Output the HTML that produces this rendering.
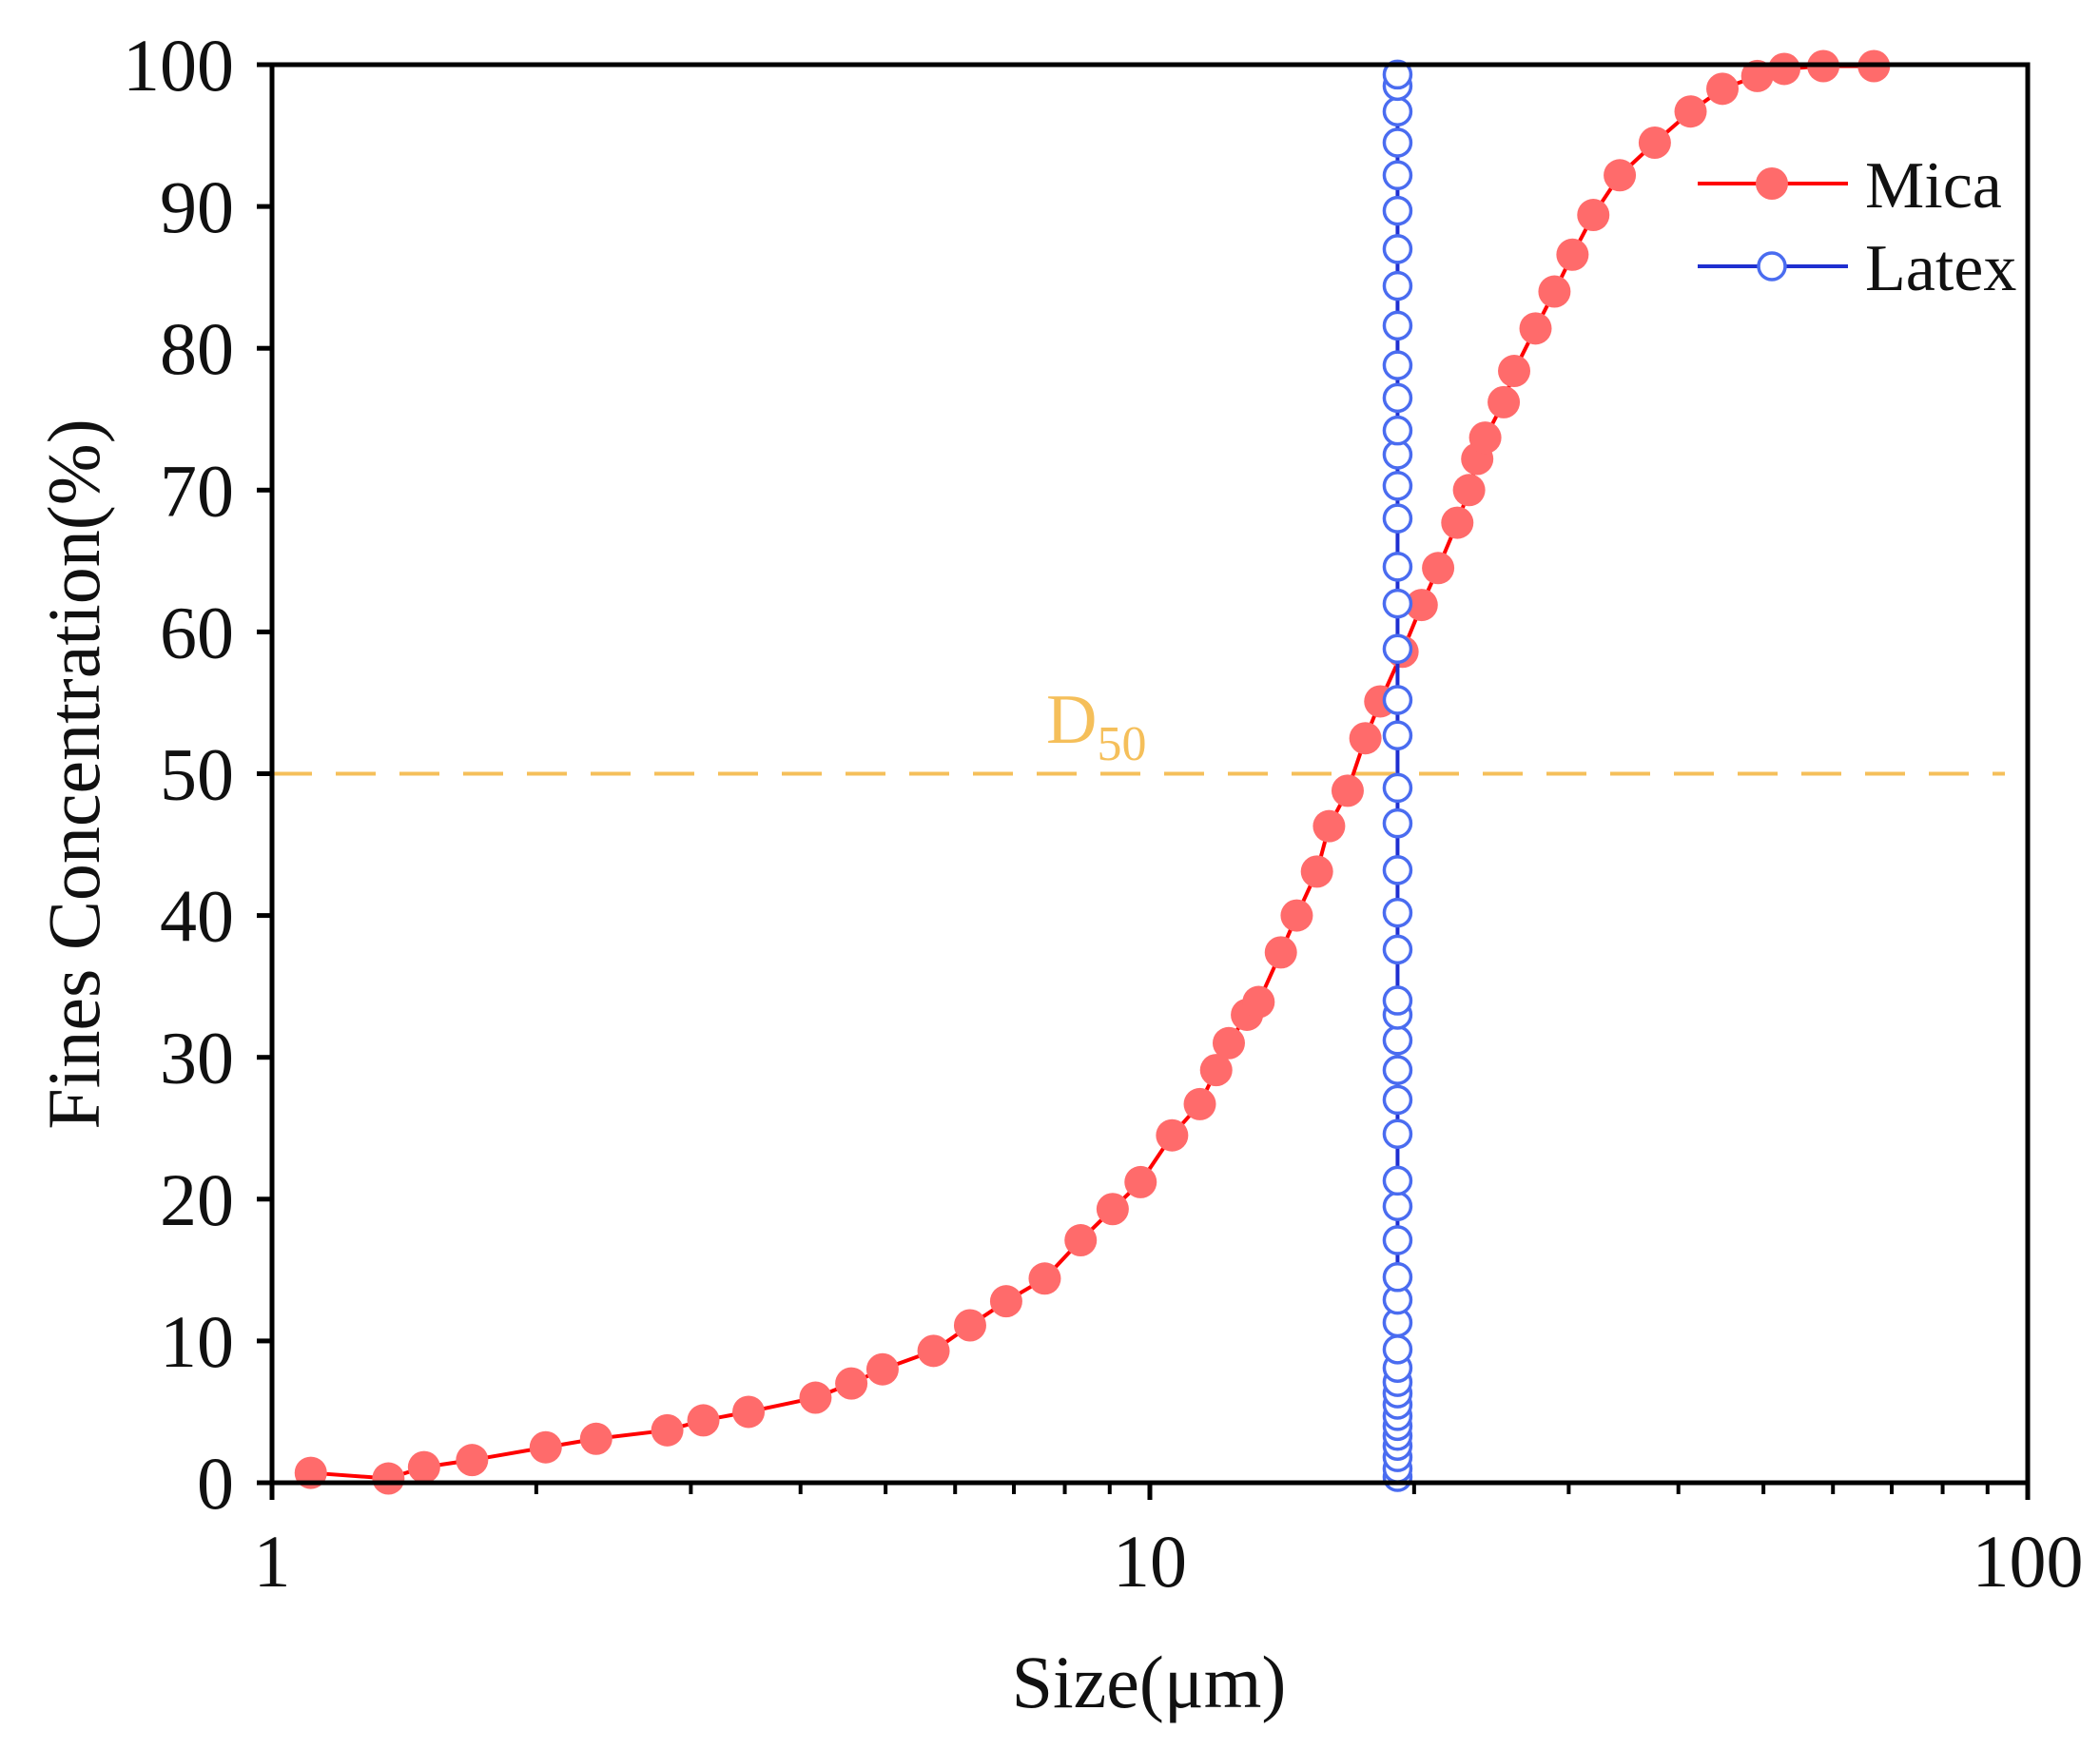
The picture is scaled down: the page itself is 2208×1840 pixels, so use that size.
<!DOCTYPE html>
<html><head><meta charset="utf-8"><style>html,body{margin:0;padding:0;background:#fff}svg{display:block}text{font-family:"Liberation Serif",serif;fill:#111}</style></head>
<body>
<svg id="chart" width="2208" height="1840" viewBox="0 0 2208 1840" xmlns="http://www.w3.org/2000/svg"></svg>
<script>
const micaX=[1.107,1.357,1.49,1.69,2.05,2.34,2.82,3.10,3.49,4.16,4.57,4.96,5.67,6.24,6.86,7.59,8.34,9.07,9.76,10.6,11.4,11.9,12.3,12.9,13.3,14.1,14.7,15.5,16.0,16.8,17.6,18.3,19.4,20.4,21.3,22.4,23.1,23.6,24.1,25.3,26.0,27.5,28.9,30.3,32.0,34.3,37.6,41.3,44.9,49.2,52.8,58.5,66.8];
const micaY=[0.7,0.3,1.1,1.6,2.5,3.1,3.7,4.4,5.0,6.0,7.0,8.0,9.3,11.1,12.8,14.4,17.1,19.3,21.2,24.5,26.7,29.1,31.0,33.0,33.9,37.4,40.0,43.1,46.3,48.8,52.5,55.1,58.6,61.9,64.5,67.7,70.0,72.2,73.7,76.2,78.4,81.4,84.0,86.6,89.4,92.2,94.5,96.7,98.3,99.2,99.7,99.9,99.9];
const latexX=19.15;
const latexY=[0.4,1.0,1.8,2.6,3.3,4.0,4.7,5.5,6.3,7.1,8.1,9.4,11.3,12.9,14.5,17.1,19.5,21.3,24.6,27.0,29.1,31.2,33.0,34.0,37.6,40.2,43.2,46.5,49.0,52.7,55.2,58.8,62.0,64.6,68.0,70.3,72.5,74.2,76.5,78.8,81.6,84.4,87.0,89.7,92.2,94.5,96.7,98.5,99.3];
const yTicks=[0,10,20,30,40,50,60,70,80,90,100];
const xTicks=[1,10,100];
const d50=50;

const L=286,R=2132,T=68,B=1559;
const sx=v=>L+(Math.log10(v))*(R-L)/2;
const sy=v=>B-v*(B-T)/100;
const NS='http://www.w3.org/2000/svg';
const svg=document.getElementById('chart');
function mk(tag,attrs,parent){const e=document.createElementNS(NS,tag);for(const k in attrs)e.setAttribute(k,attrs[k]);(parent||svg).appendChild(e);return e;}

let e=mk('line',{x1:L,x2:2108,y1:sy(d50),y2:sy(d50),stroke:'#f5bf5a','stroke-width':4,'stroke-dasharray':'42 25'});


e=mk('text',{x:1100,y:781,'font-size':74,style:'fill:#f5bf5a'});


e.innerHTML='D<tspan font-size="52" dy="18">50</tspan>';

let pts=micaX.map((x,i)=>sx(x)+','+sy(micaY[i])).join(' ');
e=mk('polyline',{points:pts,fill:'none',stroke:'#ff0000','stroke-width':4});


micaX.forEach((x,i)=>{const c=mk('circle',{cx:sx(x),cy:sy(micaY[i]),r:17,fill:'#ff6b6b'});

});

e=mk('line',{x1:sx(latexX),x2:sx(latexX),y1:sy(latexY[0]),y2:T,stroke:'#1f2fd0','stroke-width':4});


latexY.forEach(y=>{const c=mk('circle',{cx:sx(latexX),cy:sy(y),r:14,fill:'#fff',stroke:'#4a6cf0','stroke-width':3.5});

});

e=mk('rect',{x:L,y:T,width:R-L,height:B-T,fill:'none',stroke:'#000','stroke-width':5});



yTicks.forEach(v=>{const y=sy(v);
mk('line',{x1:L-16,x2:L,y1:y,y2:y,stroke:'#000','stroke-width':5});
const t=mk('text',{x:L-40,y:y+27,'font-size':78,'text-anchor':'end'});


t.textContent=v;});
xTicks.forEach(v=>{const x=sx(v);
mk('line',{x1:x,x2:x,y1:B,y2:B+18,stroke:'#000','stroke-width':5});
const t=mk('text',{x:x,y:1668,'font-size':78,'text-anchor':'middle'});


t.textContent=v;});
for(let d=1;d<100;d*=10)for(let k=2;k<10;k++){const x=sx(d*k);mk('line',{x1:x,x2:x,y1:B,y2:B+12,stroke:'#000','stroke-width':4});}

e=mk('text',{x:1208,y:1795,'font-size':78,'text-anchor':'middle'});


e.textContent='Size(μm)';
e=mk('text',{x:0,y:0,'font-size':78,'text-anchor':'middle',transform:'translate(104,814) rotate(-90)'});


e.textContent='Fines Concentration(%)';

const lg=mk('g',{});


mk('line',{x1:1785,x2:1943,y1:193,y2:193,stroke:'#ff0000','stroke-width':4},lg);
mk('circle',{cx:1863,cy:193,r:17,fill:'#ff6b6b'},lg);
e=mk('text',{x:1961,y:218,'font-size':70},lg);


e.textContent='Mica';
mk('line',{x1:1785,x2:1943,y1:280,y2:280,stroke:'#1f2fd0','stroke-width':4},lg);
mk('circle',{cx:1863,cy:280,r:14,fill:'#fff',stroke:'#4a6cf0','stroke-width':3.5},lg);
e=mk('text',{x:1961,y:305,'font-size':70},lg);


e.textContent='Latex';
</script>
</body></html>
